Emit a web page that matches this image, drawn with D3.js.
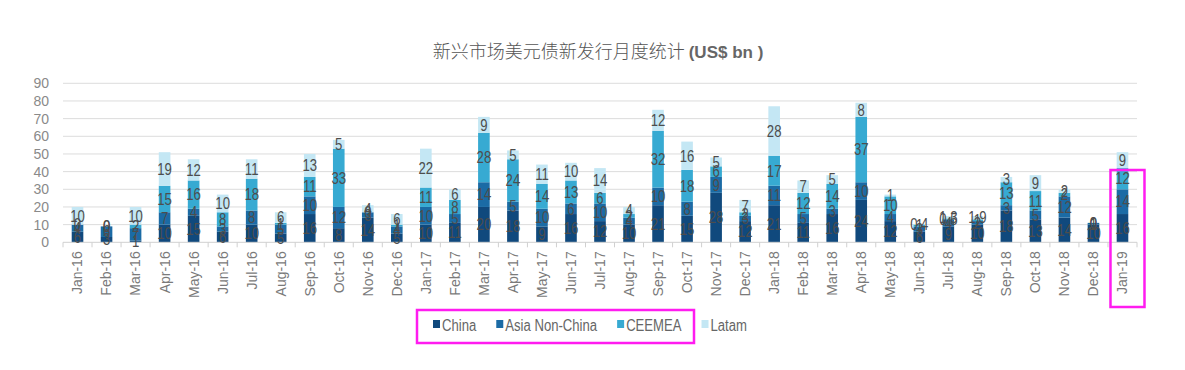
<!DOCTYPE html>
<html>
<head>
<meta charset="utf-8">
<script src="https://cdn.jsdelivr.net/npm/d3@7.9.0/dist/d3.min.js"></script>
<style>
  html, body { margin: 0; padding: 0; background: #fff; }
  svg { display: block; }
  .tick-y { font: 14px "Liberation Sans", Arial, sans-serif; fill: #8a8a8a; }
  .tick-x { font: 14px "Liberation Sans", Arial, sans-serif; fill: #7a7a7a; }
  .val { font: 16px "Liberation Sans", Arial, sans-serif; fill: #4d4d4d; }
  .leg { font: 16px "Liberation Sans", Arial, sans-serif; fill: #666; }
</style>
</head>
<body>
<svg id="chart" width="1185" height="370"></svg>
<script>
const months = [
  "Jan-16","Feb-16","Mar-16","Apr-16","May-16","Jun-16","Jul-16","Aug-16","Sep-16","Oct-16","Nov-16","Dec-16",
  "Jan-17","Feb-17","Mar-17","Apr-17","May-17","Jun-17","Jul-17","Aug-17","Sep-17","Oct-17","Nov-17","Dec-17",
  "Jan-18","Feb-18","Mar-18","Apr-18","May-18","Jun-18","Jul-18","Aug-18","Sep-18","Oct-18","Nov-18","Dec-18",
  "Jan-19"
];
const china      = [6, 3, 1, 10, 15, 6, 10, 5, 16, 8, 14, 5,  10, 11, 20, 18, 9, 16, 12, 10, 21, 15, 28, 12,  21, 11, 16, 24, 12, 6, 9, 10, 18, 13, 14, 10,  16];
const asiaNonCn  = [4, 6, 7, 7, 4, 3, 8, 5, 10, 12, 3, 4,  10, 5, 14, 5, 10, 6, 10, 4, 10, 8, 9, 3,  11, 5, 3, 10, 4, 3, 4, 2, 3, 5, 12, 1,  14];
const ceemea     = [0, 0, 2, 15, 16, 8, 18, 1, 11, 33, 0, 1,  11, 8, 28, 24, 14, 13, 6, 2, 32, 18, 6, 2,  17, 12, 14, 37, 10, 1, 0.5, 1, 13, 11, 2, 0,  12];
const latam      = [10, 0, 10, 19, 12, 10, 11, 6, 13, 5, 4, 6,  22, 6, 9, 5, 11, 10, 14, 4, 12, 16, 5, 7,  28, 7, 5, 8, 1, 0.4, 1.3, 1.9, 3, 9, 2, 0,  9];
const seriesNames = ["China", "Asia Non-China", "CEEMEA", "Latam"];
const yTicks = [0, 10, 20, 30, 40, 50, 60, 70, 80, 90];

const colors = d3.scaleOrdinal()
  .domain(seriesNames)
  .range(["#10497d", "#1b6ba5", "#37aad2", "#c4e7f4"]);

const rows = months.map((m, i) => ({
  month: m,
  "China": china[i],
  "Asia Non-China": asiaNonCn[i],
  "CEEMEA": ceemea[i],
  "Latam": latam[i]
}));

const svg = d3.select("#chart");
const plotL = 63, plotR = 1137, plotT = 83.3, plotB = 242.3;
const narrow = 0.82; // no narrow font installed, squeeze instead

const x = d3.scaleBand().domain(months).range([plotL, plotR]).paddingInner(0.6).paddingOuter(0.3);
const y = d3.scaleLinear().domain([0, 90]).range([plotB, plotT]);

// title
const title = svg.append("text")
  .attr("x", 598).attr("y", 58)
  .attr("text-anchor", "middle")
  .attr("fill", "#555");
title.append("tspan")
  .attr("style", 'font: 300 18px "Noto Sans CJK SC", sans-serif')
  .text("新兴市场美元债新发行月度统计 ");
title.append("tspan")
  .attr("style", 'font: bold 17px "Liberation Sans", Arial, sans-serif')
  .attr("fill", "#666")
  .text("(US$ bn )");

// gridlines
svg.append("g").selectAll("line")
  .data(yTicks.filter(t => t > 0))
  .join("line")
  .attr("x1", plotL).attr("x2", plotR)
  .attr("y1", d => y(d)).attr("y2", d => y(d))
  .attr("stroke", "#dcdcdc").attr("stroke-width", 1);

// y axis labels
svg.append("g").selectAll("text")
  .data(yTicks)
  .join("text")
  .attr("class", "tick-y")
  .attr("x", 49).attr("y", d => y(d))
  .attr("dy", "0.35em")
  .attr("text-anchor", "end")
  .text(d => d);

// stacked bars
const stacked = d3.stack().keys(seriesNames)(rows);

const layers = svg.append("g").selectAll("g")
  .data(stacked)
  .join("g")
  .attr("fill", d => colors(d.key));

layers.selectAll("rect")
  .data(d => d)
  .join("rect")
  .attr("x", d => x(d.data.month))
  .attr("width", x.bandwidth())
  .attr("y", d => y(d[1]))
  .attr("height", d => y(d[0]) - y(d[1]));

// x axis baseline and ticks
const xAxis = svg.append("g");
xAxis.append("line")
  .attr("x1", plotL).attr("x2", plotR)
  .attr("y1", plotB).attr("y2", plotB)
  .attr("stroke", "#d0d0d0");
xAxis.selectAll("line.tk")
  .data(d3.range(months.length + 1))
  .join("line")
  .attr("class", "tk")
  .attr("x1", i => plotL + i * x.step())
  .attr("x2", i => plotL + i * x.step())
  .attr("y1", plotB).attr("y2", plotB + 5)
  .attr("stroke", "#d0d0d0");

xAxis.selectAll("text")
  .data(months)
  .join("text")
  .attr("class", "tick-x")
  .attr("transform", d => `translate(${x(d) + x.bandwidth() / 2},${plotB + 9}) rotate(-90)`)
  .attr("dy", "0.35em")
  .attr("text-anchor", "end")
  .text(d => d);

// value labels, centred in each segment like the Excel original
const fmt = v => Number.isInteger(v) ? String(v) : v.toFixed(1);
const labelG = svg.append("g");
stacked.forEach(layer => {
  labelG.selectAll(null)
    .data(layer)
    .join("text")
    .attr("class", "val")
    .attr("transform", d =>
      `translate(${x(d.data.month) + x.bandwidth() / 2},${y((d[0] + d[1]) / 2)}) scale(${narrow},1)`)
    .attr("dy", "0.36em")
    .attr("text-anchor", "middle")
    .text(d => fmt(d[1] - d[0]));
});

// legend
const legend = svg.append("g").attr("transform", "translate(433,325)");
let lx = 0;
seriesNames.forEach(name => {
  const item = legend.append("g").attr("transform", `translate(${lx},0)`);
  item.append("rect")
    .attr("x", 0).attr("y", -5)
    .attr("width", 7).attr("height", 8)
    .attr("fill", colors(name));
  const t = item.append("text")
    .attr("class", "leg")
    .attr("transform", `translate(9,0) scale(${narrow},1)`)
    .attr("dy", "0.35em")
    .text(name);
  lx += 9 + t.node().getComputedTextLength() * narrow + 20;
});

// highlight boxes (magenta annotations)
svg.append("rect")
  .attr("x", 417).attr("y", 310)
  .attr("width", 277).attr("height", 33)
  .attr("fill", "none").attr("stroke", "#ff1cf0").attr("stroke-width", 2.5);

const lastX = x(months[months.length - 1]) + x.bandwidth() / 2;
svg.append("rect")
  .attr("x", lastX - 12).attr("y", 170)
  .attr("width", 34).attr("height", 137)
  .attr("fill", "none").attr("stroke", "#ff1cf0").attr("stroke-width", 2.5);
</script>
</body>
</html>
